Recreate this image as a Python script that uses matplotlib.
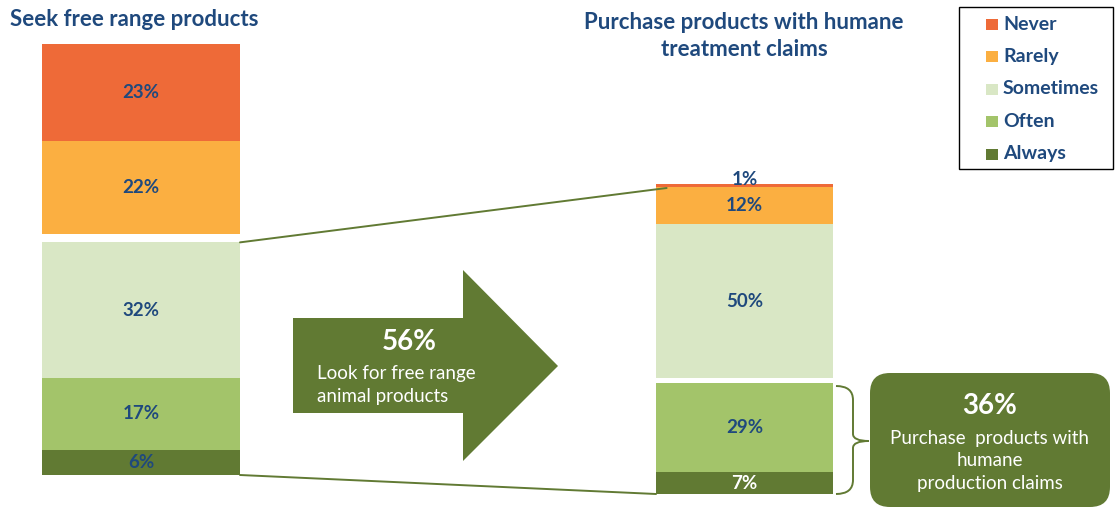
import matplotlib
matplotlib.use("Agg")
import matplotlib.pyplot as plt
from matplotlib.patches import Polygon, FancyBboxPatch, Rectangle, ConnectionPatch, PathPatch
from matplotlib.path import Path

plt.rcParams["font.family"] = ["Lato", "DejaVu Sans"]

levels = ["Never", "Rarely", "Sometimes", "Often", "Always"]
free_range = [23, 22, 32, 17, 6]
humane = [1, 12, 50, 29, 7]
colors = ["#ee6a38", "#fbaf41", "#d9e7c5", "#a3c46a", "#617a33"]
free_range_title = "Seek free range products"
humane_title = "Purchase products with humane\ntreatment claims"
arrow_pct, arrow_text = "56%", "Look for free range\nanimal products"
box_pct, box_text = "36%", "Purchase  products with\nhumane\nproduction claims"

BLUE = "#1f497d"
GREEN = "#617a33"
W, H = 1115, 508

fig = plt.figure(figsize=(W / 100, H / 100), dpi=100)


def px_axes(x0, y0, x1, y1):
    return fig.add_axes([x0 / W, 1 - y1 / H, (x1 - x0) / W, (y1 - y0) / H])


def stacked(ax, values, gap_after, gap, label_colors, nudge):
    # stack from the bottom (Always) upwards, leaving a white gap above one level
    bottom = 0
    tops = {}
    for i in reversed(range(len(values))):
        v = values[i]
        ax.bar(0, v, bottom=bottom, width=1, color=colors[i], linewidth=0)
        ax.text(0, bottom + v / 2 + nudge.get(i, 0), f"{v}%", ha="center", va="center",
                fontsize=13.5, fontweight="bold", color=label_colors[i])
        tops[i] = bottom + v
        bottom += v
        if i == gap_after:
            bottom += gap
    ax.set_xlim(-0.5, 0.5)
    ax.set_ylim(0, bottom)
    ax.axis("off")
    return tops


ax_l = px_axes(42, 44, 240, 475)
tops_l = stacked(ax_l, free_range, 2, 1.9, [BLUE] * 5, {})
ax_r = px_axes(656, 184, 833, 494)
tops_r = stacked(ax_r, humane, 3, 1.6, [BLUE] * 4 + ["white"], {0: 2.0})

# lines joining the "sometimes or more" block to the second bar
for xyA, xyB in [((0.5, tops_l[2]), (-0.44, tops_r[1] - 0.3)), ((0.5, 0), (-0.5, 0))]:
    fig.add_artist(ConnectionPatch(xyA=xyA, xyB=xyB, coordsA=ax_l.transData,
                                   coordsB=ax_r.transData, color=GREEN, lw=1.4))

ov = fig.add_axes([0, 0, 1, 1], zorder=5)
ov.set_xlim(0, W)
ov.set_ylim(H, 0)
ov.axis("off")
ov.patch.set_alpha(0)

fig.text(10 / W, 1 - 20 / H, free_range_title, ha="left", va="center",
         fontsize=16, fontweight="bold", color=BLUE)
fig.text(744 / W, 1 - 36 / H, humane_title, ha="center", va="center",
         fontsize=16, fontweight="bold", color=BLUE, linespacing=1.38)

# block arrow
ov.add_patch(Polygon([(293, 318), (463, 318), (463, 270), (558, 366),
                      (463, 461), (463, 413), (293, 413)], closed=True,
                     facecolor=GREEN, edgecolor="none"))
ov.text(409, 342, arrow_pct, ha="center", va="center", fontsize=20,
        fontweight="bold", color="white")
ov.text(317, 385, arrow_text, ha="left", va="center", fontsize=13.5,
        color="white", linespacing=1.38)

# rounded call-out box
ov.add_patch(FancyBboxPatch((870, 373), 240, 134,
                            boxstyle="round,pad=0,rounding_size=20",
                            facecolor=GREEN, edgecolor="none"))
ov.text(990, 406, box_pct, ha="center", va="center", fontsize=20,
        fontweight="bold", color="white")
ov.text(990, 461, box_text, ha="center", va="center", fontsize=13.5,
        color="white", linespacing=1.4)

# curly brace around Often + Always
verts = [(836, 386), (853, 386), (853, 400), (853, 434), (853, 441), (869, 441),
         (853, 441), (853, 448), (853, 480), (853, 494), (836, 494)]
codes = [Path.MOVETO, Path.CURVE3, Path.CURVE3, Path.LINETO, Path.CURVE3, Path.CURVE3,
         Path.CURVE3, Path.CURVE3, Path.LINETO, Path.CURVE3, Path.CURVE3]
ov.add_patch(PathPatch(Path(verts, codes), facecolor="none", edgecolor=GREEN, lw=1.4))

# legend
ov.add_patch(Rectangle((959, 7), 154, 162, facecolor="white", edgecolor="black", lw=1))
for k, (name, c) in enumerate(zip(levels, colors)):
    y = 24 + k * 32.5
    ov.add_patch(Rectangle((986, y - 5.5), 12, 11, facecolor=c, edgecolor="none"))
    ov.text(1003, y, name, ha="left", va="center", fontsize=14,
            fontweight="bold", color=BLUE)

fig.savefig("out.png", dpi=100)
